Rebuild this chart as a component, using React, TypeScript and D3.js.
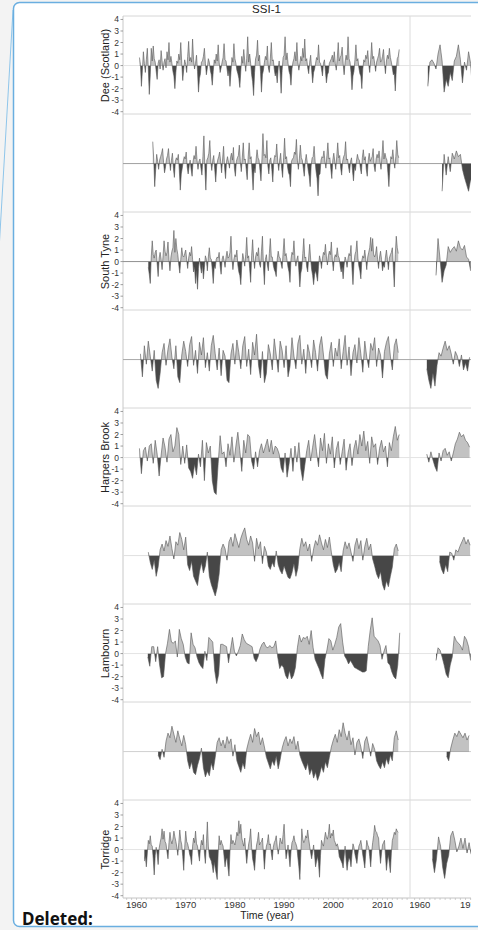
import React from "react";
import * as d3 from "d3";

// ---- data: standardised streamflow index (SSI-1); each series has a start year and a sampling step ----
const FINE = 0.2;
const COARSE = 0.4;

const rowLabels = ["Dee (Scotland)", "", "South Tyne", "", "Harpers Brook", "", "Lambourn", "", "Torridge"];
const yTicks = [4, 3, 2, 1, 0, -1, -2, -3, -4];
const xTickYears = [1960, 1970, 1980, 1990, 2000, 2010];
const title = "SSI-1";
const xTitle = "Time (year)";

const deeStart = 1960.6;
const dee = [0.7, 0.1, -1.8, -0.4, 1.2, 0.2, -0.6, 0.5, 1.5, -0.3, -2.5, -0.8, 1.5, 0.4, 1.7, 0.6, 0.3, -0.5, -1.2, 0.2,
  0.5, -0.3, 1.3, 0.4, -0.4, 0.3, 0.6, -0.2, 1.2, 0.5, 2.0, 0.3, 0.8, 0.2, -0.5, -0.9, -2.0, -0.6, 0.4, 0.2,
  1.0, 0.5, 2.0, 0.2, -1.3, -0.3, 0.5, 0.1, -0.6, 0.8, 2.1, 0.4, 0.7, 0.3, 2.3, 0.5, -0.3, 0.2, 0.9, -0.5,
  -2.3, -1.1, -0.7, 0.3, 0.4, 0.8, 1.5, 0.2, -0.8, -0.2, 0.6, 0.3, -0.4, -0.8, -1.7, -0.5, 0.5, 0.2, 1.0, 0.4,
  1.8, 0.3, -0.6, -0.2, 0.3, 0.7, 1.9, 0.5, 0.4, -0.3, -0.9, -0.4, -1.8, -0.6, 0.7, 0.3, 1.9, 0.6, 0.2, -0.4,
  -0.7, -1.1, -1.9, -0.5, 0.8, 0.2, 1.4, 0.4, -0.5, 0.6, 2.5, 0.3, 1.0, 0.2, -0.8, -1.4, -2.6, -0.6, 0.6, 0.9,
  2.2, 0.4, 0.9, -0.5, -2.3, -0.8, -0.4, 0.3, 0.8, 0.5, 1.7, -0.2, -0.6, 0.6, 2.0, 0.4, 0.5, -0.3, -0.9, -0.6,
  -1.5, -0.2, 0.4, -0.7, -2.4, -0.4, 0.7, 0.9, 2.5, 0.5, 1.1, 0.2, -0.5, -0.8, -1.7, -0.3, 0.3, 0.6, 1.2, 0.4,
  2.0, 0.3, -0.4, 0.2, 0.8, 0.4, 1.5, 0.7, 2.3, 0.4, 0.6, -0.2, -0.7, 0.3, 0.9, -0.4, -1.5, -0.6, -0.3, 0.2,
  0.7, 0.5, 1.8, 0.3, 0.2, -0.3, -0.9, 0.2, 0.5, -0.5, -1.5, -0.8, -0.6, 0.2, 0.4, 0.6, 0.9, 0.3, 1.2, 0.2,
  -0.4, 0.6, 2.0, 0.4, 0.7, 0.9, 1.6, 0.2, -0.8, 0.3, 0.9, 0.5, 2.5, 0.6, 0.3, -0.6, -2.1, -0.9, -0.5, 0.5,
  1.8, 0.4, 0.6, -0.2, -0.7, -0.9, -2.0, -0.3, 0.5, 0.3, 0.9, 0.6, 1.3, 0.1, -0.6, 0.5, 2.0, 0.6, 0.8, 0.2,
  -0.5, 0.3, 0.6, 0.9, 1.5, 0.3, 0.4, 0.8, 1.4, 0.2, -0.7, 0.4, 0.9, 0.6, 1.5, 0.7, 0.3, -0.2, -0.8, -0.7,
  -2.2, -0.3, 0.6, 0.8, 1.4];
const deeRightStart = 1961.6;
const deeRight = [-1.8, 0.3, 0.5, 0.2, -0.3, 1.0, 1.8, 0.4, -2.3, -1.2, -1.8, -0.6, -1.3, 0.4, 0.8, 1.8, 0.5, -1.5, 0.3, -0.4, 1.2, 0.2, -2.3];

const row2Start = 1963.3;
const row2 = [1.9, 0.4, -2.0, -0.5, 0.8, 0.2, -0.5, 0.3, 0.6, 0.9, 1.3, 0.1, -0.8, -0.3, 0.4, 0.7, 1.3, 0.2, -0.6, 0.3,
  0.9, -0.4, -1.2, 0.2, 0.5, 0.3, 0.8, -0.6, -2.3, -0.9, -0.4, 0.2, 0.6, 0.4, 1.0, -0.3, -0.9, -0.2, 0.3, -0.5,
  -1.1, 0.2, 0.7, 0.4, 1.5, 0.3, -0.5, 0.2, 0.4, -0.4, -1.0, 0.6, 2.4, -0.4, -2.3, 0.3, 0.5, 0.9, 2.0, 0.2,
  -0.6, 0.3, 0.7, -0.5, -1.6, -0.2, 0.3, 0.6, 1.0, 0.2, -0.8, 0.4, 1.5, -0.3, -1.3, 0.2, 0.6, 0.1, -0.4, 0.5,
  0.9, 0.3, 1.4, -0.4, -1.1, 0.2, 0.5, 0.7, 1.6, 0.2, -0.7, 0.5, 1.8, 0.3, 0.4, -0.5, -1.4, 0.6, 1.8, 0.4,
  0.6, -0.8, -2.3, -0.4, -0.8, 0.3, 1.2, 0.5, 0.3, -0.6, -1.5, 0.4, 2.6, 0.7, 0.8, 0.5, 2.0, -0.2, -0.9, 0.3,
  0.5, -0.5, -1.6, 0.2, 0.7, 0.6, 1.7, 0.2, -0.6, 0.3, 0.9, -0.4, -1.2, 0.5, 2.2, 0.4, 0.6, -0.3, -0.8, -1.0,
  -2.0, 0.2, 0.4, 0.5, 1.0, 0.8, 2.1, 0.3, -0.5, 0.4, 1.6, 0.5, 0.3, -0.4, -1.1, 0.2, 0.8, 0.1, -0.6, -1.1,
  -2.0, -0.2, 0.5, 0.6, 1.5, 0.2, -0.7, -1.3, -2.8, -1.0, -0.9, 0.3, 0.6, 0.5, 1.1, 0.2, -0.4, 0.7, 1.8, 0.4,
  0.5, -0.5, -1.3, 0.3, 0.9, 0.2, -0.5, 0.6, 1.8, 0.5, 0.7, -0.4, -1.0, 0.2, 0.6, 0.8, 1.9, 0.3, 0.4, -0.3,
  -0.8, 0.2, 0.5, -0.6, -1.5, -0.3, -0.6, 0.2, 0.8, 0.4, 0.3, -0.4, -0.9, 0.5, 1.2, 0.3, 0.6, -0.5, -1.1, 0.3,
  0.9, 0.2, 0.4, 0.6, 1.3, -0.2, -0.7, 0.4, 0.8, 0.5, 1.1, 0.2, -0.5, 0.7, 2.0, 0.4, 0.9, 0.5, 0.3, -0.8,
  -2.0, -0.3, 0.6, 0.4, 1.2, 0.2, -0.4, 0.6, 2.0, 0.8, 0.5];
const row2RightStart = 1964.4;
const row2Right = [-2.4, 0.8, -1.0, 0.6, -0.7, 0.9, 0.4, 1.1, 0.6, 0.8, -0.5, -1.2, -1.8, -2.4, -1.4, -1.6];

const southTyneStart = 1962.4;
const southTyne = [-0.5, -1.1, -1.9, 0.4, 1.8, 0.6, 0.3, 0.8, 1.0, -0.2, -1.3, 0.3, 0.8, 0.2, -0.7, 0.5, 1.8, 0.9, 0.5, 0.8,
  1.7, 0.2, -0.8, 0.4, 0.9, 1.2, 2.7, 0.8, 2.0, 1.1, 0.6, -0.3, -1.0, 0.2, 1.2, 0.5, 0.4, 0.7, 1.0, 0.2,
  -0.6, 0.3, 0.8, 0.5, 1.3, 0.2, -0.9, -0.5, -1.9, -0.8, -2.4, -0.6, 0.3, -0.4, -1.0, -0.3, -1.5, -0.5, 0.5, 0.2,
  -0.8, 0.4, 1.2, 0.3, 0.2, -0.7, -1.9, -0.4, -0.6, 0.2, 0.4, 0.3, 0.8, -0.4, -1.1, 0.2, 0.5, 0.1, -0.5, 0.4,
  0.9, 0.3, 0.4, 0.8, 2.2, 0.3, -0.7, 0.2, 0.6, 0.4, 1.0, -0.3, -0.9, -1.2, -2.0, -0.3, 0.7, 0.2, -0.4, 0.6,
  2.1, 0.3, 0.5, -0.6, -1.8, 0.5, 1.9, 0.3, -0.6, 0.4, 0.8, 0.5, 1.2, -0.2, -0.5, 0.9, 2.2, -0.4, -2.0, 0.2,
  0.6, -0.3, -0.8, 0.7, 2.0, 0.4, 0.4, -0.3, -0.7, -0.9, -1.3, 0.2, 0.9, 0.4, 0.3, -0.2, -0.6, 0.8, 2.0, 0.5,
  0.7, 0.1, -0.5, -0.9, -1.8, 0.2, 0.8, 0.6, 1.8, 0.3, -0.4, 0.2, 0.5, -0.8, -2.2, -1.0, -0.6, 0.7, 2.0, 0.3,
  0.4, -0.5, -0.9, 0.4, 1.5, 0.2, -0.7, -1.2, -2.0, -1.1, -0.8, -1.2, -1.7, -0.4, 0.5, 0.1, -0.6, 0.3, 0.8, 0.6,
  1.5, 0.4, -0.3, 0.5, 0.9, 0.6, 1.7, 0.2, -0.8, 0.3, 0.6, 0.4, 1.2, 0.5, 0.3, -0.4, -0.9, -0.5, -1.5, -0.3,
  0.4, 0.1, -0.5, 0.3, 0.7, 0.5, 1.4, -0.6, -2.0, -0.2, 0.6, 0.9, 1.8, 0.3, -0.4, -0.8, -1.5, 0.1, 0.5, 0.3,
  1.0, 0.2, -0.7, 0.4, 0.8, 1.2, 2.1, 0.9, 2.0, 0.6, 0.4, 0.7, 1.3, 0.2, -0.6, 0.4, 0.9, 0.2, -0.8, -0.3,
  -0.5, 0.4, 1.0, 0.2, -0.7, 0.3, 0.6, 0.8, 1.2, -0.5, -2.2, 0.6, 2.2, 1.2, 0.7];
const southTyneRightStart = 1963.2;
const southTyneRight = [-1.2, 2.0, 0.2, -1.8, -0.8, -0.3, 1.3, 0.8, 1.1, 1.3, 0.9, 1.8, 1.2, 1.0, 1.4, 0.4, 0.2, -0.8];

const row4Start = 1960.8;
const row4 = [0.5, -1.5, 1.2, -0.4, 1.6, 0.3, -1.0, 0.8, -1.8, -2.5, -1.2, 0.6, 1.4, -0.5, 0.9, 1.8, 0.2, -0.8, 1.2, -1.5,
  -2.0, 0.4, 1.6, 0.7, -0.6, 1.3, 2.0, -0.5, 0.8, -1.2, 1.5, 0.4, 1.9, -0.7, 0.6, -1.0, 1.2, 2.1, 0.5, -0.9,
  1.0, -1.4, 0.8, 0.3, -1.8, -2.0, 0.5, 1.4, -0.4, 1.7, 0.6, -0.8, 1.2, 2.0, -0.6, 0.9, -1.3, 1.5, 0.4, 2.2,
  -0.5, -1.6, 0.7, -2.0, -1.2, 1.3, 0.5, -0.9, 1.8, 0.4, -1.1, 1.6, 0.8, -0.7, 1.2, -1.5, -0.6, 1.9, 0.3, -0.8,
  1.4, 2.1, -0.4, 0.9, -1.2, 1.3, 0.5, -0.7, 1.7, 0.6, -1.0, 1.2, 2.0, 0.4, -1.3, -1.7, 0.5, 1.5, -0.6, 1.0,
  0.3, 1.8, -0.8, 0.7, 2.1, -0.5, 1.1, -1.4, 0.6, 1.3, -0.3, 1.9, 0.5, -1.1, 1.6, 0.2, -0.7, 1.4, 0.8, 1.9,
  -0.6, 1.0, 0.4, -1.6, 0.7, 1.5, 2.0, 0.3, -0.9, 1.2, 1.8, 0.6];
const row4RightStart = 1961.4;
const row4Right = [-0.8, -1.8, -2.5, -1.2, -2.3, -0.5, 0.6, 0.3, 1.0, 1.6, 0.8, 1.2, 0.5, -0.4, 0.7, 0.3, -0.6, 0.4, -0.9, -0.3, -1.0, 0.2];

const harpersStart = 1960.6;
const harpers = [0.8, -1.4, 0.6, 0.9, -0.3, 1.0, 1.2, -0.5, 1.5, 0.3, -1.6, 0.2, 1.7, 0.9, -0.4, 1.6, 2.0, 0.5, 1.0, 2.6,
  2.0, -0.6, 1.0, -0.5, 1.1, -0.9, -1.2, -1.8, -0.6, -1.5, 0.3, -0.8, 1.5, -2.0, 1.3, 0.4, 1.0, -2.0, -3.0, -3.2,
  -0.5, 1.9, 0.3, 0.5, -0.8, 1.2, 0.2, 1.8, -0.4, 1.0, 2.2, 0.6, -1.2, 1.5, 0.4, 2.0, 1.8, -0.3, -1.0, 0.5,
  -0.8, 0.6, 1.2, 0.4, 1.0, 1.6, 0.5, 1.5, 0.3, 1.0, 0.8, 0.3, -0.9, -1.3, 0.4, -1.7, -0.6, 0.8, -1.2, 1.0,
  -0.4, 1.3, -1.0, -2.0, -0.7, 0.6, 1.5, -0.3, 0.9, 2.0, 0.5, -0.8, 1.7, 0.6, 2.1, -0.5, 1.2, 0.3, 1.8, -0.9,
  0.7, 1.4, -0.6, 0.5, 1.6, -1.1, 0.4, 1.2, -0.7, 0.8, 1.5, 0.3, 2.0, 1.0, 2.3, 0.6, 1.4, -0.5, 1.8, 0.9,
  1.2, -0.6, 0.8, 1.5, 0.5, 1.0, -0.8, 1.3, 0.6, 1.8, 2.7, 1.5, 2.0];
const harpersRightStart = 1961.4;
const harpersRight = [0.3, -0.4, 0.5, -0.2, -0.8, -1.2, 0.4, -0.3, 0.6, 0.8, 0.2, 0.5, -0.3, 0.4, 1.2, 1.6, 2.2, 1.8, 2.0, 1.5, 1.3, 0.9];

const row6Start = 1962.4;
const row6 = [0.3, -0.6, -1.2, -0.4, -1.8, -1.0, 0.5, 1.0, 0.4, 1.3, 0.8, 1.7, 0.6, -0.3, 1.2, 0.9, 2.0, 1.4, 0.5, 1.6,
  -0.8, -1.3, -0.5, -1.8, -2.2, -2.6, -1.4, -0.6, -1.5, -0.9, 0.3, -1.8, -2.5, -3.0, -3.5, -2.8, -1.6, 0.5, 1.0, 0.6,
  -0.4, 1.2, 1.6, 0.8, 1.9, 1.3, 0.7, 1.5, 2.0, 2.4, 1.4, 0.9, 1.7, 1.1, -0.5, 1.5, 0.6, 1.2, -0.7, 0.8,
  0.3, -0.9, -1.2, -0.6, -1.0, 0.4, -0.8, -1.3, -1.6, -0.9, -1.4, -1.9, -2.0, -1.5, -0.7, -1.8, -1.1, 0.6, 1.5, 0.8,
  1.2, 0.4, 1.0, -0.5, 0.6, 1.3, 0.9, 1.8, 1.1, 0.5, 1.4, 0.7, 1.6, 0.3, -0.8, -1.5, -1.2, -0.6, -1.4, 0.4,
  1.2, 0.6, 1.1, 0.3, -0.5, 0.9, 1.5, 0.6, 1.3, -0.4, 0.8, 1.5, 0.5, 1.0, -0.3, -0.9, -1.6, -2.0, -1.4, -2.5,
  -3.0, -2.2, -2.7, -1.8, -1.0, 0.6, 1.0, 0.4];
const row6RightStart = 1963.9;
const row6Right = [-0.5, -1.2, -1.6, -0.8, -1.4, 0.3, 0.2, -0.4, 0.5, 0.3, 0.8, 1.2, 1.6, 1.0, 1.4, 0.9];

const lambournStart = 1962.3;
const lambourn = [-0.3, -1.1, 0.6, 0.6, -0.7, 0.6, -1.0, -2.1, -2.0, 0.0, 0.9, 2.1, 1.0, 0.9, 1.1, -0.3, 2.1, 1.3, 0.8, -0.3,
  -0.8, -0.9, 1.8, 0.8, 0.5, -0.3, -0.8, -1.1, -1.3, 0.2, -0.6, 1.4, 1.2, 1.0, -1.5, -2.6, -1.8, 0.8, 0.8, 0.7,
  0.6, -0.8, 0.3, 1.4, 0.2, -0.2, 0.2, 0.7, 1.7, 1.2, 0.9, 0.8, 0.7, 0.6, -0.4, -0.7, -0.3, 0.4, 0.8, 1.0,
  0.6, 0.5, 0.7, 0.5, 0.6, 1.1, -0.3, -1.3, -1.0, -1.2, -1.9, -2.2, -1.5, -2.2, -1.9, -1.2, 0.5, 1.6, 1.0, 1.4,
  1.3, 1.5, 0.8, 2.0, 0.5, -0.5, -0.9, -1.3, -1.8, -2.2, -0.5, 0.3, 1.3, 1.1, 0.3, 0.8, 1.4, 2.3, 2.6, 1.0,
  -0.2, -0.5, -0.9, -0.6, -0.9, -1.2, -1.3, -1.4, -1.5, -1.6, -1.6, -1.5, 0.6, 2.0, 3.1, 1.5, 1.3, 1.1, 0.7, -0.5,
  0.2, 0.7, -0.8, -1.0, -1.6, -2.0, -2.2, -1.0, 1.8];
const lambournRightStart = 1963.2;
const lambournRight = [-0.6, 0.5, 0.3, -0.3, -1.0, -1.8, -2.1, -1.0, -0.3, 1.5, 1.1, 0.9, 0.7, 0.3, 1.5, 1.2, 0.6, -0.6];

const row8Start = 1964.4;
const row8 = [-0.3, -0.7, 0.2, -0.5, 0.9, 1.6, 1.2, 2.2, 1.5, 0.8, 1.8, 1.1, 0.5, 1.4, 0.6, -0.8, -1.5, -0.9, -1.8, -2.0,
  -1.2, -0.6, 0.3, -1.4, -2.2, -1.7, -2.1, -1.0, -1.6, -0.5, 0.8, 1.2, 0.5, 1.0, 0.3, 1.3, 0.7, 1.1, -0.4, 0.6,
  -0.8, -1.3, -1.8, -1.0, -1.5, 0.2, 0.9, 1.5, 0.8, 2.0, 1.3, 1.7, 0.6, 1.2, 0.4, -0.5, -1.0, -1.5, -0.8, -1.2,
  -0.4, -1.5, -0.7, 0.3, 0.9, 1.3, 0.5, 1.1, 0.7, 1.3, 0.2, 0.9, -0.3, -0.8, -1.2, -1.6, -1.0, -2.0, -1.5, -2.3,
  -1.8, -2.5, -2.0, -1.3, -1.8, -0.9, -1.4, -0.5, 0.4, 1.0, 1.5, 0.8, 1.9, 1.3, 2.5, 1.6, 1.0, 1.8, 0.6, 1.2,
  -0.3, 0.8, 1.1, 0.4, -0.6, 0.9, 1.3, 0.5, -0.4, 0.7, 0.2, -0.8, -1.2, -1.5, -0.9, -1.4, -0.6, -1.1, -0.3, -0.8,
  1.2, 1.8, 1.0];
const row8RightStart = 1965.3;
const row8Right = [-0.4, -0.8, 0.3, 1.0, 1.6, 1.3, 1.8, 1.5, 1.2, 1.6, 1.0, 1.4];

const torridgeStart = 1961.6;
const torridge = [-1.0, -0.6, -1.5, -0.3, 0.8, 0.5, 1.2, 0.4, 0.3, -0.8, -2.2, -0.5, 0.2, -0.4, -1.3, 0.1, 0.6, 1.0, 1.8, 0.9,
  1.6, 0.7, 0.5, -0.2, -0.8, 0.6, 1.5, 0.8, 0.5, 0.9, 1.6, 1.1, 0.7, 0.2, -0.5, 0.6, 1.7, 0.8, 0.4, -0.6,
  -1.8, 0.2, 1.6, 0.7, 0.5, 0.1, -0.4, -0.7, -1.3, 0.3, 1.0, 0.6, 1.6, 0.5, 0.3, -0.4, -1.0, 0.2, 0.8, 0.4,
  1.3, -0.3, -1.2, 0.5, 2.4, 0.3, -0.6, -0.8, -1.0, -1.4, -2.0, -1.1, -1.6, -2.1, -2.6, -0.3, 1.2, 0.4, 0.8, 0.5,
  0.3, -0.6, -1.5, -0.9, -0.7, -1.6, -2.3, -0.2, 1.3, 0.5, 0.8, 0.6, 0.4, 0.9, 1.5, 1.2, 2.5, 1.4, 2.2, 1.0,
  0.6, 0.3, 1.0, -0.2, -1.2, -0.3, 0.5, 0.9, 1.8, 0.2, -0.8, -1.2, -1.8, -0.5, 0.4, 0.8, 1.5, 0.4, 0.6, 0.7,
  1.0, -0.3, -1.7, -0.4, 0.3, 0.6, 1.3, 0.4, 0.5, -0.3, -0.9, 0.2, 0.6, 0.8, 1.2, 0.3, -0.4, 0.2, 1.0, 0.7,
  0.5, 1.3, 2.2, 0.5, -0.8, -0.3, 0.4, -0.6, -1.5, -0.2, 0.6, 0.8, 1.2, 0.7, 0.5, 0.2, -0.7, -1.5, -2.6, -0.4,
  1.8, 0.9, 0.6, 0.8, 1.2, 1.0, 1.7, 0.9, 0.3, -0.3, -0.8, -0.2, 0.4, -0.5, -1.5, -1.0, -0.6, -1.2, -2.4, -0.5,
  0.8, 0.5, 0.3, 0.9, 1.5, 1.1, 0.9, 1.3, 2.2, 1.0, 1.4, 1.2, 1.7, 0.8, 0.6, 0.3, 0.5, 0.2, -0.6, -0.8,
  -1.0, -1.2, -1.6, -0.6, 0.3, -0.9, -1.8, -1.1, -0.7, -0.9, -1.5, -0.4, 0.5, 0.2, -0.4, -0.8, -1.2, -0.4, 0.3, 0.5,
  0.8, 0.2, -0.5, -1.0, -1.6, -0.3, 0.8, 0.4, 0.2, -0.6, -1.5, -0.2, 0.6, 1.2, 2.1, 1.6, 1.5, 1.2, 1.0, -0.2,
  -1.2, -0.3, 0.4, 0.6, 0.8, -0.5, -1.8, -0.9, -0.5, -1.2, -2.0, -0.3, 0.8, 1.1, 1.5, 1.3, 1.8, 1.6, 1.5];
const torridgeRightStart = 1962.5;
const torridgeRight = [-0.8, -2.0, -0.8, 1.1, 0.3, -1.5, -2.5, -1.2, -0.5, 1.2, 1.6, 0.8, -0.2, 0.3, 1.0, 0.1, 1.0, -0.3, 0.6, -0.4];

const leftSeries = [
  { start: deeStart, step: FINE, values: dee },
  { start: row2Start, step: FINE, values: row2 },
  { start: southTyneStart, step: FINE, values: southTyne },
  { start: row4Start, step: COARSE, values: row4 },
  { start: harpersStart, step: COARSE, values: harpers },
  { start: row6Start, step: COARSE, values: row6 },
  { start: lambournStart, step: COARSE, values: lambourn },
  { start: row8Start, step: COARSE, values: row8 },
  { start: torridgeStart, step: FINE, values: torridge },
];
const rightSeries = [
  { start: deeRightStart, step: COARSE, values: deeRight },
  { start: row2RightStart, step: COARSE, values: row2Right },
  { start: southTyneRightStart, step: COARSE, values: southTyneRight },
  { start: row4RightStart, step: COARSE, values: row4Right },
  { start: harpersRightStart, step: COARSE, values: harpersRight },
  { start: row6RightStart, step: COARSE, values: row6Right },
  { start: lambournRightStart, step: COARSE, values: lambournRight },
  { start: row8RightStart, step: COARSE, values: row8Right },
  { start: torridgeRightStart, step: COARSE, values: torridgeRight },
];

// ---- layout ----
const W = 478;
const H = 930;
const TOP = 16;
const ROW_H = 98;
const COL_L = 123;
const COL_M = 410;
const COL_R = 471;
const BOTTOM = TOP + ROW_H * rowLabels.length;
const FONT = "'Liberation Sans', Arial, sans-serif";

const xLeft = d3.scaleLinear().domain([1960, 2010]).range([136.5, 382.5]);
const xRight = d3.scaleLinear().domain([1960, 1970]).range([419.7, 470.6]);
const yRow = (r: number) => d3.scaleLinear().domain([-4.2, 4.3]).range([TOP + (r + 1) * ROW_H, TOP + r * ROW_H]);

const zeroColor = ["#e4e4e4", "#a0a0a0", "#909090", "#a8a8a8", "#e4e4e4", "#e0e0e0", "#e4e4e4", "#d0d0d0", "#e4e4e4"];

type Pt = [number, number];

function Trace({ id, start, step, values, x, y, x0, x1 }: {
  id: string; start: number; step: number; values: number[];
  x: d3.ScaleLinear<number, number>; y: d3.ScaleLinear<number, number>; x0: number; x1: number;
}) {
  const pts: Pt[] = values.map((v, i) => [start + i * step, v]);
  const z = y(0);
  const top = y.range()[1];
  const bottom = y.range()[0];
  const area = d3.area<Pt>().x((d) => x(d[0])).y0(z).y1((d) => y(d[1]));
  const line = d3.line<Pt>().x((d) => x(d[0])).y((d) => y(d[1]));
  const a = area(pts) || "";
  return (
    <g>
      <defs>
        <clipPath id={`${id}-pos`}><rect x={x0} y={top} width={x1 - x0} height={z - top} /></clipPath>
        <clipPath id={`${id}-neg`}><rect x={x0} y={z} width={x1 - x0} height={bottom - z} /></clipPath>
        <clipPath id={`${id}-all`}><rect x={x0} y={top} width={x1 - x0} height={bottom - top} /></clipPath>
      </defs>
      <path d={a} fill="#c2c2c2" clipPath={`url(#${id}-pos)`} />
      <path d={a} fill="#474747" clipPath={`url(#${id}-neg)`} />
      <path d={line(pts) || ""} fill="none" stroke="#555555" strokeWidth={0.6} clipPath={`url(#${id}-all)`} />
    </g>
  );
}

export default function App() {
  const minorYears = d3.range(1958, 2016);
  return (
    <svg width={W} height={H} style={{ position: "absolute", left: 0, top: 0, display: "block" }}>
      <rect x={0} y={0} width={W} height={H} fill="#f3f3f3" />
      <line x1={13} y1={10} x2={-1} y2={250} stroke="#8ec5ea" strokeWidth={1} />
      <rect x={13.5} y={2.5} width={480} height={924} rx={6} fill="#ffffff" stroke="#6aaee0" strokeWidth={1.5} />

      <text x={(COL_L + COL_M) / 2} y={12.5} textAnchor="middle" fontFamily={FONT} fontSize={11.5} fill="#222">{title}</text>

      {/* panel frames */}
      {d3.range(rowLabels.length + 1).map((r) => (
        <line key={`h${r}`} x1={COL_L} x2={COL_R} y1={TOP + r * ROW_H} y2={TOP + r * ROW_H}
          stroke={r === rowLabels.length ? "#c4c4c4" : "#d6d6d6"} strokeWidth={1} />
      ))}
      <line x1={COL_M} x2={COL_M} y1={TOP} y2={BOTTOM} stroke="#dcdcdc" strokeWidth={1} />
      <line x1={COL_L} x2={COL_L} y1={TOP} y2={BOTTOM} stroke="#c8c8c8" strokeWidth={1} />

      {rowLabels.map((label, r) => {
        const y = yRow(r);
        const z = y(0);
        const L = leftSeries[r];
        const R = rightSeries[r];
        return (
          <g key={`row${r}`}>
            <line x1={COL_L} x2={COL_R} y1={z} y2={z} stroke={zeroColor[r]} strokeWidth={1} />
            <Trace id={`l${r}`} start={L.start} step={L.step} values={L.values} x={xLeft} y={y} x0={COL_L} x1={COL_M} />
            <Trace id={`r${r}`} start={R.start} step={R.step} values={R.values} x={xRight} y={y} x0={COL_M} x1={COL_R} />
            {label && (
              <g>
                {yTicks.map((t) => (
                  <g key={t}>
                    <line x1={COL_L - 2.5} x2={COL_L} y1={y(t)} y2={y(t)} stroke="#888" strokeWidth={0.8} />
                    <text x={COL_L - 4} y={y(t) + 3} textAnchor="end" fontFamily={FONT} fontSize={8.5} fill="#333">{t}</text>
                  </g>
                ))}
                <text transform={`translate(108.5,${z}) rotate(-90)`} textAnchor="middle" fontFamily={FONT} fontSize={11} fill="#222">{label}</text>
              </g>
            )}
          </g>
        );
      })}

      {/* time axis */}
      {minorYears.map((yr) => (
        <g key={`m${yr}`}>
          {xLeft(yr) > COL_L && xLeft(yr) < COL_M && <line x1={xLeft(yr)} x2={xLeft(yr)} y1={BOTTOM} y2={BOTTOM + 2} stroke="#bbb" strokeWidth={0.7} />}
          {xRight(yr) > COL_M && xRight(yr) < COL_R && <line x1={xRight(yr)} x2={xRight(yr)} y1={BOTTOM} y2={BOTTOM + 2} stroke="#bbb" strokeWidth={0.7} />}
        </g>
      ))}
      {xTickYears.map((yr) => (
        <text key={`t${yr}`} x={xLeft(yr)} y={BOTTOM + 10} textAnchor="middle" fontFamily={FONT} fontSize={9.5} fill="#333">{yr}</text>
      ))}
      <svg x={COL_M} y={BOTTOM} width={COL_R - COL_M} height={14} overflow="hidden">
        {xTickYears.slice(0, 2).map((yr) => (
          <text key={`rt${yr}`} x={xRight(yr) - COL_M} y={10} textAnchor="middle" fontFamily={FONT} fontSize={9.5} fill="#333">{yr}</text>
        ))}
      </svg>
      <text x={267} y={BOTTOM + 21} textAnchor="middle" fontFamily={FONT} fontSize={10.5} fill="#222">{xTitle}</text>

      <text x={22} y={925} fontFamily="'Noto Sans', 'Open Sans', sans-serif" fontWeight={700} fontSize={17} fill="#111">Deleted:</text>
    </svg>
  );
}
